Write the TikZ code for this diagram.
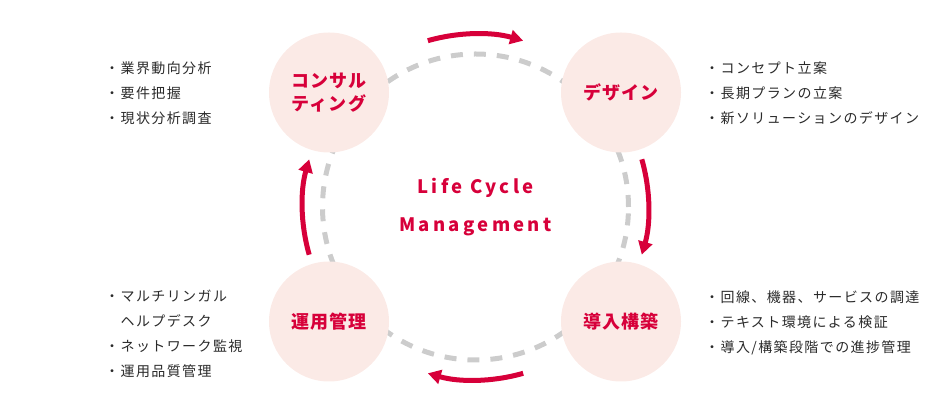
\documentclass[tikz,border=0pt]{standalone}
\usepackage{fontspec}
\setmainfont{Noto Sans CJK JP}
\newfontfamily\notefont{Noto Sans CJK JP}[LetterSpace=10]
\newfontfamily\phasefont{Noto Sans CJK JP}[LetterSpace=6]
\newfontfamily\titlefont{Noto Sans CJK JP}[LetterSpace=18]
\usetikzlibrary{arrows.meta}
\definecolor{lcred}{HTML}{D7003A}
\definecolor{lcpink}{HTML}{FBEAE6}
\definecolor{lcgray}{HTML}{CCCCCC}
\definecolor{lctext}{HTML}{2A2A2A}

\begin{document}
\begin{tikzpicture}[x=1pt, y=1pt,
    phase/.style={circle, fill=lcpink, minimum size=120pt, inner sep=0pt, align=center, text=lcred, font=\phasefont\bfseries\fontsize{18}{23}\selectfont},
    note/.style={anchor=west, align=left, inner sep=0pt, text=lctext, font=\notefont\fontsize{14}{25}\selectfont},
    ring/.style={draw=lcgray, line width=5pt, dash pattern=on 12pt off 11pt},
    cyclearrow/.style={draw=lcred, line width=5pt, -{Triangle[length=13pt, width=14pt]}}]
    \useasboundingbox (0,0) rectangle (950,414);
    % Kreislauf
    \coordinate (lc) at (475.5,207);
    \draw[ring] (lc) circle[radius=153];

    % Phasen
    \node[phase] (consult) at (329,321.5) {コンサル\\ティング};
    \node[phase] (design) at (621,321.5) {デザイン};
    \node[phase] (operate) at (329,92.5) {運用管理};
    \node[phase] (build) at (621,92.5) {導入構築};

    % Pfeile
    \foreach \a in {90,0,-90,180}
        \draw[cyclearrow] ([shift={({\a+16}:173)}]lc) arc[start angle=\a+16, end angle=\a-16, radius=173];

    \node[text=lcred, align=center, font=\titlefont\bfseries\fontsize{18.5}{38}\selectfont] (title) at (lc) {Life Cycle\\Management};

    % Notizen
    \node[note] (consultnote) at (105,321) {・業界動向分析\\・要件把握\\・現状分析調査};
    \node[note] (designnote) at (705,321) {・コンセプト立案\\・長期プランの立案\\・新ソリューションのデザイン};
    \node[note] (operatenote) at (105,80) {・マルチリンガル\\　ヘルプデスク\\・ネットワーク監視\\・運用品質管理};
    \node[note] (buildnote) at (705,91.5) {・回線、機器、サービスの調達\\・テキスト環境による検証\\・導入/構築段階での進捗管理};
\end{tikzpicture}
\end{document}
